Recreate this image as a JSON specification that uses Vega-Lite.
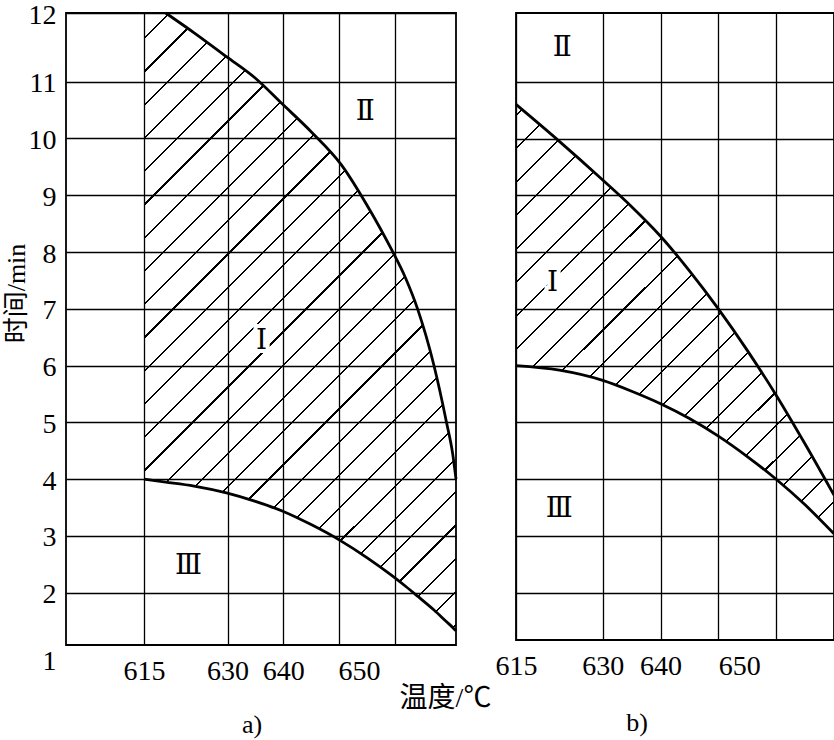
{
  "$schema": "https://vega.github.io/schema/vega-lite/v6.json",
  "background": "white",
  "padding": {"left": 2, "top": 0, "right": 0, "bottom": 3},
  "spacing": 60,
  "bounds": "flush",
  "config": {
    "view": {"stroke": "black", "strokeWidth": 1.8},
    "font": "Liberation Serif",
    "axis": {
      "labelFont": "Liberation Serif",
      "labelColor": "black",
      "labelFontSize": 28,
      "labelOverlap": false,
      "labelFlush": false,
      "titleColor": "black",
      "titleFontWeight": "normal",
      "gridColor": "black",
      "gridOpacity": 1,
      "gridWidth": 1.3,
      "ticks": false,
      "domain": false
    },
    "title": {"font": "Liberation Serif", "fontSize": 26, "fontWeight": "normal", "color": "black"}
  },
  "hconcat": [
    {
      "width": 390,
      "height": 632,
      "title": {"text": "a)", "orient": "bottom", "dx": -9, "offset": 0},
      "data": {"values": [
        {"x": 615, "lo": 4.0, "hi": 12.21},
        {"x": 618.9, "lo": 3.95, "hi": 12.21},
        {"x": 624, "lo": 3.88, "hi": 11.86},
        {"x": 629.8, "lo": 3.76, "hi": 11.44},
        {"x": 635, "lo": 3.61, "hi": 11.06},
        {"x": 639.8, "lo": 3.44, "hi": 10.61},
        {"x": 645, "lo": 3.20, "hi": 10.12},
        {"x": 650.4, "lo": 2.91, "hi": 9.54},
        {"x": 655, "lo": 2.62, "hi": 8.83},
        {"x": 659.4, "lo": 2.31, "hi": 8.05},
        {"x": 662, "lo": 2.11, "hi": 7.53},
        {"x": 664.1, "lo": 1.94, "hi": 7.0},
        {"x": 667, "lo": 1.70, "hi": 6.02},
        {"x": 669.3, "lo": 1.49, "hi": 5.0},
        {"x": 670.4, "lo": 1.39, "hi": 4.45},
        {"x": 671, "lo": 1.33, "hi": 4.0}
      ]},
      "layer": [
        {
          "mark": {
            "type": "area",
            "interpolate": "monotone",
            "fill": {
              "gradient": "linear", "x1": 0, "y1": 0, "x2": 0.6054, "y2": 1.1992,
              "stops": [
                {"offset": 0, "color": "rgba(0,0,0,0)"},
                {"offset": 0.0264, "color": "rgba(0,0,0,0)"}, {"offset": 0.0264, "color": "#000"}, {"offset": 0.0288, "color": "#000"}, {"offset": 0.0288, "color": "rgba(0,0,0,0)"},
                {"offset": 0.0622, "color": "rgba(0,0,0,0)"}, {"offset": 0.0622, "color": "#000"}, {"offset": 0.0646, "color": "#000"}, {"offset": 0.0646, "color": "rgba(0,0,0,0)"},
                {"offset": 0.0979, "color": "rgba(0,0,0,0)"}, {"offset": 0.0979, "color": "#000"}, {"offset": 0.1003, "color": "#000"}, {"offset": 0.1003, "color": "rgba(0,0,0,0)"},
                {"offset": 0.1337, "color": "rgba(0,0,0,0)"}, {"offset": 0.1337, "color": "#000"}, {"offset": 0.1361, "color": "#000"}, {"offset": 0.1361, "color": "rgba(0,0,0,0)"},
                {"offset": 0.1695, "color": "rgba(0,0,0,0)"}, {"offset": 0.1695, "color": "#000"}, {"offset": 0.1719, "color": "#000"}, {"offset": 0.1719, "color": "rgba(0,0,0,0)"},
                {"offset": 0.2053, "color": "rgba(0,0,0,0)"}, {"offset": 0.2053, "color": "#000"}, {"offset": 0.2077, "color": "#000"}, {"offset": 0.2077, "color": "rgba(0,0,0,0)"},
                {"offset": 0.2410, "color": "rgba(0,0,0,0)"}, {"offset": 0.2410, "color": "#000"}, {"offset": 0.2434, "color": "#000"}, {"offset": 0.2434, "color": "rgba(0,0,0,0)"},
                {"offset": 0.2768, "color": "rgba(0,0,0,0)"}, {"offset": 0.2768, "color": "#000"}, {"offset": 0.2792, "color": "#000"}, {"offset": 0.2792, "color": "rgba(0,0,0,0)"},
                {"offset": 0.3126, "color": "rgba(0,0,0,0)"}, {"offset": 0.3126, "color": "#000"}, {"offset": 0.3150, "color": "#000"}, {"offset": 0.3150, "color": "rgba(0,0,0,0)"},
                {"offset": 0.3483, "color": "rgba(0,0,0,0)"}, {"offset": 0.3483, "color": "#000"}, {"offset": 0.3507, "color": "#000"}, {"offset": 0.3507, "color": "rgba(0,0,0,0)"},
                {"offset": 0.3841, "color": "rgba(0,0,0,0)"}, {"offset": 0.3841, "color": "#000"}, {"offset": 0.3865, "color": "#000"}, {"offset": 0.3865, "color": "rgba(0,0,0,0)"},
                {"offset": 0.4199, "color": "rgba(0,0,0,0)"}, {"offset": 0.4199, "color": "#000"}, {"offset": 0.4223, "color": "#000"}, {"offset": 0.4223, "color": "rgba(0,0,0,0)"},
                {"offset": 0.4556, "color": "rgba(0,0,0,0)"}, {"offset": 0.4556, "color": "#000"}, {"offset": 0.4580, "color": "#000"}, {"offset": 0.4580, "color": "rgba(0,0,0,0)"},
                {"offset": 0.4914, "color": "rgba(0,0,0,0)"}, {"offset": 0.4914, "color": "#000"}, {"offset": 0.4938, "color": "#000"}, {"offset": 0.4938, "color": "rgba(0,0,0,0)"},
                {"offset": 0.5272, "color": "rgba(0,0,0,0)"}, {"offset": 0.5272, "color": "#000"}, {"offset": 0.5296, "color": "#000"}, {"offset": 0.5296, "color": "rgba(0,0,0,0)"},
                {"offset": 0.5630, "color": "rgba(0,0,0,0)"}, {"offset": 0.5630, "color": "#000"}, {"offset": 0.5654, "color": "#000"}, {"offset": 0.5654, "color": "rgba(0,0,0,0)"},
                {"offset": 0.5987, "color": "rgba(0,0,0,0)"}, {"offset": 0.5987, "color": "#000"}, {"offset": 0.6011, "color": "#000"}, {"offset": 0.6011, "color": "rgba(0,0,0,0)"},
                {"offset": 0.6345, "color": "rgba(0,0,0,0)"}, {"offset": 0.6345, "color": "#000"}, {"offset": 0.6369, "color": "#000"}, {"offset": 0.6369, "color": "rgba(0,0,0,0)"},
                {"offset": 0.6703, "color": "rgba(0,0,0,0)"}, {"offset": 0.6703, "color": "#000"}, {"offset": 0.6727, "color": "#000"}, {"offset": 0.6727, "color": "rgba(0,0,0,0)"},
                {"offset": 0.7060, "color": "rgba(0,0,0,0)"}, {"offset": 0.7060, "color": "#000"}, {"offset": 0.7084, "color": "#000"}, {"offset": 0.7084, "color": "rgba(0,0,0,0)"},
                {"offset": 0.7418, "color": "rgba(0,0,0,0)"}, {"offset": 0.7418, "color": "#000"}, {"offset": 0.7442, "color": "#000"}, {"offset": 0.7442, "color": "rgba(0,0,0,0)"},
                {"offset": 0.7776, "color": "rgba(0,0,0,0)"}, {"offset": 0.7776, "color": "#000"}, {"offset": 0.7800, "color": "#000"}, {"offset": 0.7800, "color": "rgba(0,0,0,0)"},
                {"offset": 0.8133, "color": "rgba(0,0,0,0)"}, {"offset": 0.8133, "color": "#000"}, {"offset": 0.8157, "color": "#000"}, {"offset": 0.8157, "color": "rgba(0,0,0,0)"},
                {"offset": 0.8491, "color": "rgba(0,0,0,0)"}, {"offset": 0.8491, "color": "#000"}, {"offset": 0.8515, "color": "#000"}, {"offset": 0.8515, "color": "rgba(0,0,0,0)"},
                {"offset": 0.8849, "color": "rgba(0,0,0,0)"}, {"offset": 0.8849, "color": "#000"}, {"offset": 0.8873, "color": "#000"}, {"offset": 0.8873, "color": "rgba(0,0,0,0)"},
                {"offset": 0.9207, "color": "rgba(0,0,0,0)"}, {"offset": 0.9207, "color": "#000"}, {"offset": 0.9231, "color": "#000"}, {"offset": 0.9231, "color": "rgba(0,0,0,0)"},
                {"offset": 0.9564, "color": "rgba(0,0,0,0)"}, {"offset": 0.9564, "color": "#000"}, {"offset": 0.9588, "color": "#000"}, {"offset": 0.9588, "color": "rgba(0,0,0,0)"},
                {"offset": 0.9922, "color": "rgba(0,0,0,0)"}, {"offset": 0.9922, "color": "#000"}, {"offset": 0.9946, "color": "#000"}, {"offset": 0.9946, "color": "rgba(0,0,0,0)"},
                {"offset": 1, "color": "rgba(0,0,0,0)"}
              ]
            }
          },
          "encoding": {
            "x": {
              "field": "x", "type": "quantitative",
              "scale": {"domain": [601, 671], "nice": false, "zero": false},
              "axis": {
                "values": [615, 630, 640, 650, 660],
                "format": "d",
                "labelExpr": "datum.value == 660 ? '' : datum.label",
                "labelOffset": {"condition": {"test": "datum.value == 650", "value": 20}, "value": 0},
                "labelPadding": 12,
                "title": "温度/℃",
                "titleFont": "Liberation Serif, Noto Sans CJK SC",
                "titleFontSize": 28,
                "titleX": 379,
                "titleY": 53,
                "titleAlign": "center",
                "titleBaseline": "middle"
              }
            },
            "y": {
              "field": "lo", "type": "quantitative",
              "scale": {"domain": [1.08, 12.21], "nice": false, "zero": false},
              "axis": {
                "values": [1.08, 2, 3, 4, 5, 6, 7, 8, 9, 10, 11, 12.21],
                "format": "d",
                "labelExpr": "datum.value < 1.5 ? '1' : (datum.value > 12 ? '12' : datum.label)",
                "gridColor": {"condition": {"test": "datum.value < 1.5", "value": "rgba(0,0,0,0)"}, "value": "black"},
                "labelOffset": {"condition": {"test": "datum.value < 1.5", "value": 16}, "value": 2},
                "labelPadding": 10,
                "title": "时间/min",
                "titleFont": "Liberation Serif, Noto Sans CJK SC",
                "titleFontSize": 26,
                "titleX": -50,
                "titleY": 280,
                "titleAlign": "center",
                "titleBaseline": "middle"
              }
            },
            "y2": {"field": "hi"}
          }
        },
        {
          "mark": {"type": "line", "interpolate": "monotone", "color": "black", "strokeWidth": 2.8},
          "encoding": {
            "x": {"field": "x", "type": "quantitative"},
            "y": {"field": "lo", "type": "quantitative"}
          }
        },
        {
          "transform": [{"filter": "datum.x >= 618.9"}],
          "mark": {"type": "line", "interpolate": "monotone", "color": "black", "strokeWidth": 2.8},
          "encoding": {
            "x": {"field": "x", "type": "quantitative"},
            "y": {"field": "hi", "type": "quantitative"}
          }
        },
        {
          "data": {"values": [
            {"t": "Ⅱ", "x": 654.7, "y": 10.46},
            {"t": "Ⅰ", "x": 636.1, "y": 6.44},
            {"t": "Ⅲ", "x": 623, "y": 2.47}
          ]},
          "mark": {"type": "text", "font": "Liberation Serif, DejaVu Serif, Noto Sans CJK SC", "fontSize": 28, "fill": "white", "stroke": "white", "strokeWidth": 8},
          "encoding": {
            "x": {"field": "x", "type": "quantitative"},
            "y": {"field": "y", "type": "quantitative"},
            "text": {"field": "t"}
          }
        },
        {
          "data": {"values": [
            {"t": "Ⅱ", "x": 654.7, "y": 10.46},
            {"t": "Ⅰ", "x": 636.1, "y": 6.44},
            {"t": "Ⅲ", "x": 623, "y": 2.47}
          ]},
          "mark": {"type": "text", "font": "Liberation Serif, DejaVu Serif, Noto Sans CJK SC", "fontSize": 28, "color": "black"},
          "encoding": {
            "x": {"field": "x", "type": "quantitative"},
            "y": {"field": "y", "type": "quantitative"},
            "text": {"field": "t"}
          }
        }
      ]
    },
    {
      "width": 318,
      "height": 627,
      "title": {"text": "b)", "orient": "bottom", "dx": -38, "offset": 30},
      "data": {"values": [
        {"x": 615, "lo": 6.0, "hi": 10.60},
        {"x": 622.5, "lo": 5.92, "hi": 9.95},
        {"x": 630, "lo": 5.74, "hi": 9.27},
        {"x": 635, "lo": 5.55, "hi": 8.80},
        {"x": 640, "lo": 5.33, "hi": 8.28},
        {"x": 645, "lo": 5.07, "hi": 7.67},
        {"x": 650, "lo": 4.76, "hi": 7.00},
        {"x": 655, "lo": 4.40, "hi": 6.27},
        {"x": 660, "lo": 4.00, "hi": 5.48},
        {"x": 665, "lo": 3.55, "hi": 4.62},
        {"x": 670, "lo": 3.04, "hi": 3.72}
      ]},
      "layer": [
        {
          "mark": {
            "type": "area",
            "interpolate": "monotone",
            "fill": {
              "gradient": "linear", "x1": 0, "y1": 0, "x2": 0.8316, "y2": 1.1245,
              "stops": [
                {"offset": 0, "color": "rgba(0,0,0,0)"},
                {"offset": 0.0128, "color": "rgba(0,0,0,0)"}, {"offset": 0.0128, "color": "#000"}, {"offset": 0.0156, "color": "#000"}, {"offset": 0.0156, "color": "rgba(0,0,0,0)"},
                {"offset": 0.0577, "color": "rgba(0,0,0,0)"}, {"offset": 0.0577, "color": "#000"}, {"offset": 0.0605, "color": "#000"}, {"offset": 0.0605, "color": "rgba(0,0,0,0)"},
                {"offset": 0.1026, "color": "rgba(0,0,0,0)"}, {"offset": 0.1026, "color": "#000"}, {"offset": 0.1054, "color": "#000"}, {"offset": 0.1054, "color": "rgba(0,0,0,0)"},
                {"offset": 0.1475, "color": "rgba(0,0,0,0)"}, {"offset": 0.1475, "color": "#000"}, {"offset": 0.1503, "color": "#000"}, {"offset": 0.1503, "color": "rgba(0,0,0,0)"},
                {"offset": 0.1924, "color": "rgba(0,0,0,0)"}, {"offset": 0.1924, "color": "#000"}, {"offset": 0.1952, "color": "#000"}, {"offset": 0.1952, "color": "rgba(0,0,0,0)"},
                {"offset": 0.2373, "color": "rgba(0,0,0,0)"}, {"offset": 0.2373, "color": "#000"}, {"offset": 0.2401, "color": "#000"}, {"offset": 0.2401, "color": "rgba(0,0,0,0)"},
                {"offset": 0.2822, "color": "rgba(0,0,0,0)"}, {"offset": 0.2822, "color": "#000"}, {"offset": 0.2850, "color": "#000"}, {"offset": 0.2850, "color": "rgba(0,0,0,0)"},
                {"offset": 0.3271, "color": "rgba(0,0,0,0)"}, {"offset": 0.3271, "color": "#000"}, {"offset": 0.3299, "color": "#000"}, {"offset": 0.3299, "color": "rgba(0,0,0,0)"},
                {"offset": 0.3720, "color": "rgba(0,0,0,0)"}, {"offset": 0.3720, "color": "#000"}, {"offset": 0.3748, "color": "#000"}, {"offset": 0.3748, "color": "rgba(0,0,0,0)"},
                {"offset": 0.4169, "color": "rgba(0,0,0,0)"}, {"offset": 0.4169, "color": "#000"}, {"offset": 0.4197, "color": "#000"}, {"offset": 0.4197, "color": "rgba(0,0,0,0)"},
                {"offset": 0.4618, "color": "rgba(0,0,0,0)"}, {"offset": 0.4618, "color": "#000"}, {"offset": 0.4646, "color": "#000"}, {"offset": 0.4646, "color": "rgba(0,0,0,0)"},
                {"offset": 0.5067, "color": "rgba(0,0,0,0)"}, {"offset": 0.5067, "color": "#000"}, {"offset": 0.5095, "color": "#000"}, {"offset": 0.5095, "color": "rgba(0,0,0,0)"},
                {"offset": 0.5516, "color": "rgba(0,0,0,0)"}, {"offset": 0.5516, "color": "#000"}, {"offset": 0.5544, "color": "#000"}, {"offset": 0.5544, "color": "rgba(0,0,0,0)"},
                {"offset": 0.5965, "color": "rgba(0,0,0,0)"}, {"offset": 0.5965, "color": "#000"}, {"offset": 0.5993, "color": "#000"}, {"offset": 0.5993, "color": "rgba(0,0,0,0)"},
                {"offset": 0.6414, "color": "rgba(0,0,0,0)"}, {"offset": 0.6414, "color": "#000"}, {"offset": 0.6442, "color": "#000"}, {"offset": 0.6442, "color": "rgba(0,0,0,0)"},
                {"offset": 0.6863, "color": "rgba(0,0,0,0)"}, {"offset": 0.6863, "color": "#000"}, {"offset": 0.6891, "color": "#000"}, {"offset": 0.6891, "color": "rgba(0,0,0,0)"},
                {"offset": 0.7312, "color": "rgba(0,0,0,0)"}, {"offset": 0.7312, "color": "#000"}, {"offset": 0.7340, "color": "#000"}, {"offset": 0.7340, "color": "rgba(0,0,0,0)"},
                {"offset": 0.7761, "color": "rgba(0,0,0,0)"}, {"offset": 0.7761, "color": "#000"}, {"offset": 0.7789, "color": "#000"}, {"offset": 0.7789, "color": "rgba(0,0,0,0)"},
                {"offset": 0.8210, "color": "rgba(0,0,0,0)"}, {"offset": 0.8210, "color": "#000"}, {"offset": 0.8238, "color": "#000"}, {"offset": 0.8238, "color": "rgba(0,0,0,0)"},
                {"offset": 0.8659, "color": "rgba(0,0,0,0)"}, {"offset": 0.8659, "color": "#000"}, {"offset": 0.8687, "color": "#000"}, {"offset": 0.8687, "color": "rgba(0,0,0,0)"},
                {"offset": 0.9108, "color": "rgba(0,0,0,0)"}, {"offset": 0.9108, "color": "#000"}, {"offset": 0.9136, "color": "#000"}, {"offset": 0.9136, "color": "rgba(0,0,0,0)"},
                {"offset": 0.9557, "color": "rgba(0,0,0,0)"}, {"offset": 0.9557, "color": "#000"}, {"offset": 0.9585, "color": "#000"}, {"offset": 0.9585, "color": "rgba(0,0,0,0)"},
                {"offset": 1, "color": "rgba(0,0,0,0)"}
              ]
            }
          },
          "encoding": {
            "x": {
              "field": "x", "type": "quantitative",
              "scale": {"domain": [615, 670], "nice": false, "zero": false},
              "axis": {
                "values": [615, 630, 640, 650, 660],
                "format": "d",
                "labelExpr": "datum.value == 660 ? '' : datum.label",
                "labelOffset": {"condition": {"test": "datum.value == 650", "value": 21}, "value": 0},
                "labelPadding": 12,
                "title": null
              }
            },
            "y": {
              "field": "lo", "type": "quantitative",
              "scale": {"domain": [1.17, 12.21], "nice": false, "zero": false},
              "axis": {
                "values": [2, 3, 4, 5, 6, 7, 8, 9, 10, 11],
                "labels": false,
                "title": null
              }
            },
            "y2": {"field": "hi"}
          }
        },
        {
          "mark": {"type": "line", "interpolate": "monotone", "color": "black", "strokeWidth": 2.8},
          "encoding": {
            "x": {"field": "x", "type": "quantitative"},
            "y": {"field": "lo", "type": "quantitative"}
          }
        },
        {
          "mark": {"type": "line", "interpolate": "monotone", "color": "black", "strokeWidth": 2.8},
          "encoding": {
            "x": {"field": "x", "type": "quantitative"},
            "y": {"field": "hi", "type": "quantitative"}
          }
        },
        {
          "data": {"values": [
            {"t": "Ⅱ", "x": 623.0, "y": 11.6},
            {"t": "Ⅰ", "x": 621.3, "y": 7.46},
            {"t": "Ⅲ", "x": 622.5, "y": 3.47}
          ]},
          "mark": {"type": "text", "font": "Liberation Serif, DejaVu Serif, Noto Sans CJK SC", "fontSize": 28, "fill": "white", "stroke": "white", "strokeWidth": 8},
          "encoding": {
            "x": {"field": "x", "type": "quantitative"},
            "y": {"field": "y", "type": "quantitative"},
            "text": {"field": "t"}
          }
        },
        {
          "data": {"values": [
            {"t": "Ⅱ", "x": 623.0, "y": 11.6},
            {"t": "Ⅰ", "x": 621.3, "y": 7.46},
            {"t": "Ⅲ", "x": 622.5, "y": 3.47}
          ]},
          "mark": {"type": "text", "font": "Liberation Serif, DejaVu Serif, Noto Sans CJK SC", "fontSize": 28, "color": "black"},
          "encoding": {
            "x": {"field": "x", "type": "quantitative"},
            "y": {"field": "y", "type": "quantitative"},
            "text": {"field": "t"}
          }
        }
      ]
    }
  ]
}
